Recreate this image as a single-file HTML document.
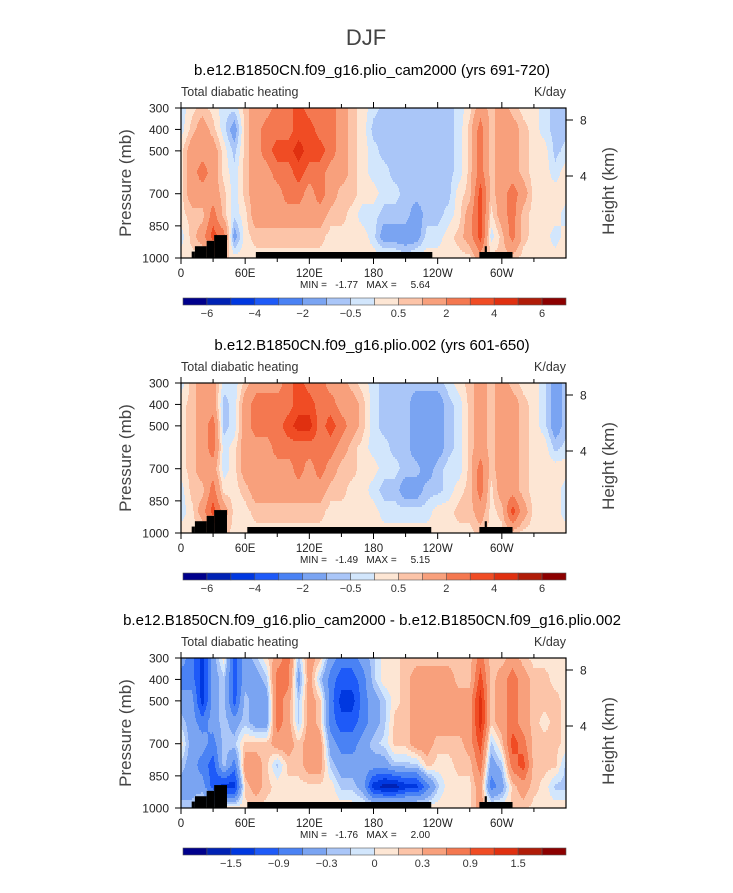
<!DOCTYPE html>
<html><head><meta charset="utf-8"><style>
body{margin:0;background:#fff;}
svg text{font-family:"Liberation Sans",sans-serif;fill:#000;}
</style></head><body>
<svg id="fig" width="733" height="888" viewBox="0 0 733 888" xmlns="http://www.w3.org/2000/svg">
<text x="366" y="45" font-size="22" text-anchor="middle" style="fill:#444">DJF</text>
</svg>
<script>
// ---------- data ----------
const lons = [0,10,20,30,40,50,60,70,80,90,100,110,120,130,140,150,160,170,180,190,200,210,220,230,240,250,260,270,280,290,300,310,320,330,340,350,360];
const levels = [300,400,500,600,700,800,900,1000];
const pTicks = [300,400,500,700,850,1000];
const lonTicks = [0,60,120,180,240,300];
const lonTickLabels = ["0","60E","120E","180","120W","60W"];
const hTicks = [8,4];
const colors = ["#00008c","#0022b4","#0038e0","#1e5af8","#4a82f4","#7aa4f2","#aac6f8","#d2e6fc","#fde6d4","#fcc4a8","#f8a07c","#f47850","#f04c24","#e03010","#b01c08","#8c0000"];
const levelsAbs = [-6,-5,-4,-3,-2,-1,-0.5,0,0.5,1,2,3,4,5,6];
const levelsAbsLabels = ["-6","","-4","","-2","","-0.5","","0.5","","2","","4","","6"];
const levelsDiff = [-1.8,-1.5,-1.2,-0.9,-0.6,-0.3,-0.15,0,0.15,0.3,0.6,0.9,1.2,1.5,1.8];
const levelsDiffLabels = ["","-1.5","","-0.9","","-0.3","","0","","0.3","","0.9","","1.5",""];
const p1 = [
[-0.3,0.3,0.7,0.3,-0.3,-0.3,0.7,1.5,1.5,2.5,2.5,3.5,2.5,2.5,2.5,1.5,0.7,0.3,-0.3,-0.7,-0.7,-0.7,-0.7,-0.7,-0.7,-0.7,-0.3,0.3,1.5,0.7,1.5,0.7,0.3,0.3,-0.3,-0.7,-0.7],
[-0.3,0.7,1.5,0.7,-0.3,-1.5,0.7,1.5,2.5,2.5,2.5,3.5,3.5,2.5,2.5,1.5,0.7,0.3,-0.7,-0.7,-0.7,-0.7,-0.7,-0.7,-0.7,-0.7,-0.3,0.7,2.5,0.7,1.5,1.5,0.7,0.3,-0.3,-0.7,-0.7],
[0.3,1.5,1.5,1.5,0.3,-0.7,0.7,1.5,2.5,3.5,3.5,4.5,3.5,3.5,2.5,1.5,0.7,0.3,-0.3,-0.7,-0.7,-0.7,-0.7,-0.7,-0.7,-0.7,-0.3,0.7,2.5,0.7,1.5,1.5,0.7,0.3,0.3,-0.7,-0.3],
[0.3,1.5,2.5,1.5,0.3,-0.3,0.7,1.5,1.5,2.5,2.5,3.5,2.5,2.5,1.5,1.5,0.7,0.3,-0.3,-0.3,-0.7,-0.7,-0.7,-0.7,-0.7,-0.7,-0.3,0.7,2.5,0.7,1.5,1.5,0.7,0.3,0.3,-0.3,0.3],
[0.3,1.5,1.5,1.5,0.7,-0.3,0.7,1.5,1.5,1.5,2.5,2.5,1.5,2.5,1.5,0.7,0.7,0.3,0.3,-0.3,-0.3,-0.7,-0.7,-0.7,-0.7,-0.7,0.3,0.7,3.5,0.7,1.5,2.5,1.5,0.3,0.3,0.3,0.3],
[0.3,0.7,0.7,2.5,0.7,-0.3,0.3,1.5,1.5,1.5,1.5,1.5,1.5,1.5,0.7,0.7,0.3,-0.3,-0.3,-0.7,-0.7,-0.7,-1.5,-0.7,-0.7,-0.3,0.3,1.5,3.5,0.3,1.5,2.5,0.7,0.3,0.3,0.3,-0.3],
[-0.3,0.7,1.5,3.5,2.5,-1.5,0.3,0.7,0.7,0.7,0.7,0.7,0.7,0.7,0.3,0.3,0.3,0.3,-0.3,-1.5,-1.5,-1.5,-1.5,-0.3,-0.3,0.3,0.7,1.5,3.5,-0.3,0.7,2.5,0.7,0.3,0.3,-0.3,0.3],
[0.3,0.3,0.3,0.7,0.7,0.3,0.3,0.3,0.3,0.3,0.3,0.3,0.3,0.3,0.3,0.3,0.3,0.3,0.3,0.3,0.3,-0.3,0.3,0.3,0.3,0.3,0.3,0.3,1.5,0.7,0.7,0.7,0.3,0.3,0.3,0.3,0.3]
];
const p2 = [
[-0.3,0.7,1.5,1.5,-0.3,-0.3,0.7,1.5,1.5,1.5,2.5,3.5,2.5,2.5,1.5,1.5,0.7,0.3,-0.3,-0.7,-0.7,-0.7,-0.7,-0.7,-0.7,-0.3,0.3,0.7,1.5,0.7,1.5,0.7,0.3,0.3,-0.3,-1.5,-0.7],
[0.3,0.7,1.5,1.5,-0.7,-0.3,1.5,2.5,2.5,2.5,2.5,3.5,3.5,2.5,2.5,1.5,1.5,0.7,-0.3,-0.7,-0.7,-0.7,-1.5,-1.5,-1.5,-0.7,-0.3,0.7,1.5,0.7,1.5,1.5,0.7,0.3,-0.3,-1.5,-0.7],
[0.3,0.7,1.5,2.5,-0.7,-0.3,1.5,2.5,2.5,2.5,3.5,4.5,4.5,2.5,3.5,2.5,1.5,0.7,-0.3,-0.7,-0.7,-0.7,-1.5,-1.5,-1.5,-0.7,-0.3,0.7,1.5,0.7,1.5,1.5,0.7,0.3,-0.3,-1.5,-0.7],
[0.3,0.7,1.5,2.5,-0.3,0.3,1.5,1.5,1.5,2.5,2.5,2.5,2.5,2.5,2.5,1.5,0.7,0.3,-0.3,-0.3,-0.7,-0.7,-1.5,-1.5,-1.5,-0.7,-0.3,0.7,1.5,0.7,1.5,1.5,0.7,0.3,0.3,-0.7,-0.3],
[0.3,0.7,1.5,1.5,-0.3,0.3,1.5,1.5,1.5,1.5,1.5,2.5,1.5,2.5,1.5,0.7,0.7,0.3,0.3,-0.3,-0.3,-0.7,-0.7,-1.5,-0.7,-0.3,-0.3,0.7,2.5,0.7,1.5,1.5,0.7,0.3,0.3,0.3,0.3],
[-0.3,0.7,0.7,2.5,0.3,0.3,0.7,1.5,1.5,1.5,1.5,1.5,1.5,1.5,0.7,0.7,0.3,0.3,-0.3,-0.7,-0.7,-1.5,-1.5,-0.7,-0.7,-0.3,0.3,0.7,2.5,0.3,1.5,1.5,0.7,0.3,0.3,0.3,-0.3],
[-0.3,0.3,1.5,3.5,1.5,0.3,0.3,0.7,0.7,0.7,0.7,0.7,0.7,0.7,0.3,0.3,0.3,0.3,0.3,-0.3,-0.3,-0.3,-0.3,-0.3,0.3,0.3,0.7,0.7,1.5,0.3,0.7,3.5,1.5,0.3,0.3,0.3,-0.3],
[0.3,0.3,0.3,0.7,0.7,0.3,0.3,0.3,0.3,0.3,0.3,0.3,0.3,0.3,0.3,0.3,0.3,0.3,0.3,0.3,0.3,0.3,0.3,0.3,0.3,0.3,0.3,0.3,0.7,0.3,0.3,0.7,0.3,0.3,0.3,0.3,0.3]
];
const p3 = [
[-0.45,-0.75,-1.35,-0.45,0.1,-1.05,-0.45,-0.2,0.1,0.45,0.75,-0.2,0.45,0.2,-0.45,-0.75,-0.75,-0.45,-0.2,0.1,0.1,0.2,0.2,0.2,0.2,0.2,0.2,0.2,0.75,0.2,0.2,0.45,0.2,0.1,0.1,0.1,0.1],
[-0.75,-0.75,-1.35,-0.45,-0.2,-1.05,-0.45,-0.45,-0.2,0.75,0.75,-0.45,0.45,-0.2,-0.75,-1.05,-1.05,-0.75,-0.2,0.1,0.1,0.2,0.45,0.45,0.45,0.45,0.2,0.2,1.05,0.2,0.45,0.75,0.45,0.2,0.2,0.1,0.1],
[-0.45,-0.45,-1.35,-0.45,-0.2,-1.05,-0.2,-0.45,-0.45,0.75,0.45,-0.2,0.45,0.2,-0.75,-1.35,-1.35,-0.75,-0.45,-0.2,0.1,0.2,0.45,0.45,0.45,0.45,0.45,0.45,1.35,0.2,0.45,0.75,0.45,0.2,0.2,0.2,0.1],
[-0.2,-0.45,-0.75,-0.45,-0.2,-0.45,-0.2,-0.45,-0.45,0.75,0.45,-0.2,0.45,0.2,-0.75,-1.05,-1.05,-0.75,-0.45,-0.2,0.2,0.2,0.45,0.45,0.45,0.45,0.45,0.45,1.35,0.2,0.45,0.75,0.45,0.2,0.1,0.2,0.1],
[0.1,-0.45,-0.45,-0.75,-0.2,-0.2,0.2,0.2,0.2,0.45,0.45,0.2,0.45,0.45,-0.45,-0.75,-0.75,-0.45,-0.2,-0.1,0.2,0.2,0.45,0.45,0.2,0.2,0.2,0.45,1.05,-0.2,0.2,1.05,0.75,0.2,0.2,0.2,0.1],
[-0.2,-0.45,-0.75,-1.05,-0.2,-0.75,0.45,0.45,0.2,-0.2,0.2,0.2,0.45,0.45,-0.2,-0.45,-0.45,-0.45,-0.45,-0.45,-0.2,-0.2,-0.2,0.2,0.1,0.1,0.2,0.2,0.75,-0.45,-0.2,0.75,1.05,0.2,0.2,0.2,-0.2],
[-0.45,-0.45,-0.45,-1.05,-1.35,-1.35,0.2,0.45,0.2,0.1,0.1,0.1,0.1,0.1,0.1,-0.2,-0.2,-0.45,-1.35,-1.65,-1.65,-1.35,-1.35,-0.75,-0.2,0.1,0.1,0.1,0.45,-0.75,-0.45,0.2,0.45,0.2,0.1,-0.2,-0.2],
[-0.2,-0.2,0.1,0.1,0.1,0.1,0.1,0.1,0.1,0.1,0.1,0.1,0.1,0.1,0.1,0.1,0.1,0.1,0.1,0.2,0.2,0.2,0.2,0.1,0.1,0.1,0.1,0.1,0.45,0.1,0.1,0.2,0.2,0.1,0.1,0.1,0.1]
];
// topography segments: [lonStart, lonEnd, pressureTop]
const topoA = [[10,13,970],[13,24,945],[24,31,920],[31,43,893],[70,235,972],[279,310,972],[284,286,945]];
const topoB = [[10,13,970],[13,24,945],[24,31,920],[31,43,893],[62,234,972],[279,310,972],[284,286,945]];
const titles = ["b.e12.B1850CN.f09_g16.plio_cam2000 (yrs 691-720)","b.e12.B1850CN.f09_g16.plio.002 (yrs 601-650)","b.e12.B1850CN.f09_g16.plio_cam2000 - b.e12.B1850CN.f09_g16.plio.002"];
const minmax = [["-1.77","5.64"],["-1.49","5.15"],["-1.76","2.00"]];

// ---------- drawing ----------
const NS="http://www.w3.org/2000/svg";
const svg=document.getElementById('fig');
function mk(tag,attrs,parent){const e=document.createElementNS(NS,tag);for(const k in attrs)e.setAttribute(k,attrs[k]);(parent||svg).appendChild(e);return e;}
const X0=181,X1=566,PH=150;
function xs(lon){return X0+lon/360*(X1-X0);}
function colorFor(v,lv){let i=0;while(i<lv.length&&v>=lv[i])i++;return colors[i];}
function valAt(data,lon,p){
  let fi=Math.min(lon/10,lons.length-1.0001);let i=Math.floor(fi),tx=fi-i;
  let fj=Math.min((p-300)/100,levels.length-1.0001);let j=Math.floor(fj),ty=fj-j;
  const a=data[j][i],b=data[j][i+1],c=data[j+1][i],d=data[j+1][i+1];
  return (a*(1-tx)+b*tx)*(1-ty)+(c*(1-tx)+d*tx)*ty;
}
function panel(k,data,lv,lvLabels,topo,top,titleY,cbY){
  const g=mk('g',{});
  
  
  const ys=p=>top+(p-300)/700*PH;
  const t=mk('text',{x:372,y:titleY,'font-size':15,'text-anchor':'middle'},g);t.textContent=titles[k];
  
  const s1=mk('text',{x:X0,y:top-12,'font-size':12.5,style:'fill:#333'},g);s1.textContent='Total diabatic heating';
  
  const s2=mk('text',{x:X1,y:top-12,'font-size':12.5,'text-anchor':'end',style:'fill:#333'},g);s2.textContent='K/day';
  
  // field
  const fg=mk('g',{'shape-rendering':'crispEdges'},g);
  
  const cw=1,ch=2;
  for(let y=top;y<top+PH;y+=ch){
    const p=300+(y+ch/2-top)/PH*700;
    let runStart=X0,runCol=null;
    for(let x=X0;x<=X1;x+=cw){
      let col=null;
      if(x<X1){const lon=(x+cw/2-X0)/(X1-X0)*360;col=colorFor(valAt(data,lon,p),lv);}
      if(col!==runCol){
        if(runCol!==null){const r=mk('rect',{x:runStart,y:y,width:x-runStart,height:ch,fill:runCol},fg);
          }
        runStart=x;runCol=col;
      }
    }
  }
  topo.forEach(s=>{const r=mk('rect',{x:xs(s[0]),y:ys(s[2]),width:xs(s[1])-xs(s[0]),height:top+PH-ys(s[2]),fill:'#000'},g);
    });
  const fr=mk('rect',{x:X0,y:top,width:X1-X0,height:PH,fill:'none',stroke:'#000','stroke-width':1.2},g);
  
  for(let l=0;l<360;l+=30){
    const maj=l%60===0,len=maj?6:4;
    mk('line',{x1:xs(l),x2:xs(l),y1:top+PH,y2:top+PH+len,stroke:'#000'},g);
    mk('line',{x1:xs(l),x2:xs(l),y1:top,y2:top-len,stroke:'#000'},g);
  }
  lonTicks.forEach((l,i)=>{const tt=mk('text',{x:xs(l),y:top+PH+19,'font-size':11.5,'text-anchor':'middle',style:'fill:#222'},g);tt.textContent=lonTickLabels[i];
    });
  pTicks.forEach(p=>{mk('line',{x1:X0-6,x2:X0,y1:ys(p),y2:ys(p),stroke:'#000'},g);
    const tt=mk('text',{x:X0-12,y:ys(p)+4.5,'font-size':12,'text-anchor':'end',style:'fill:#222'},g);tt.textContent=p;
    });
  hTicks.forEach(h=>{
    const yh= top + (h===8?12:68);
    mk('line',{x1:X1,x2:X1+7,y1:yh,y2:yh,stroke:'#000'},g);
    const tt=mk('text',{x:X1+14,y:yh+4.5,'font-size':12,style:'fill:#222'},g);tt.textContent=h;
    });
  const yl=mk('text',{x:0,y:0,'font-size':17,'text-anchor':'middle',style:'fill:#444',transform:`translate(131,${top+PH/2}) rotate(-90)`},g);yl.textContent='Pressure (mb)';
  
  const yr=mk('text',{x:0,y:0,'font-size':17,'text-anchor':'middle',style:'fill:#444',transform:`translate(614,${top+PH/2+8}) rotate(-90)`},g);yr.textContent='Height (km)';
  
  const mm=mk('text',{x:300,y:top+PH+30,'font-size':10,style:'white-space:pre;fill:#222'},g);mm.textContent='MIN =   '+minmax[k][0]+'   MAX =     '+minmax[k][1];
  
  const cb=mk('g',{},g);
  const cx0=183,cx1=566,bw=(cx1-cx0)/16;
  colors.forEach((c,i)=>{const r=mk('rect',{x:cx0+i*bw,y:cbY,width:bw,height:7,fill:c,stroke:'#555','stroke-width':0.6},cb);
    });
  lvLabels.forEach((lab,i)=>{if(!lab)return;const tt=mk('text',{x:cx0+(i+1)*bw,y:cbY+19,'font-size':11,'text-anchor':'middle',style:'fill:#333'},cb);tt.textContent=lab.replace('-','\u2212');
    });
}
panel(0,p1,levelsAbs,levelsAbsLabels,topoA,108,75,298);
panel(1,p2,levelsAbs,levelsAbsLabels,topoB,383,350,573);
panel(2,p3,levelsDiff,levelsDiffLabels,topoB,658,625,848);
</script>
</body></html>
